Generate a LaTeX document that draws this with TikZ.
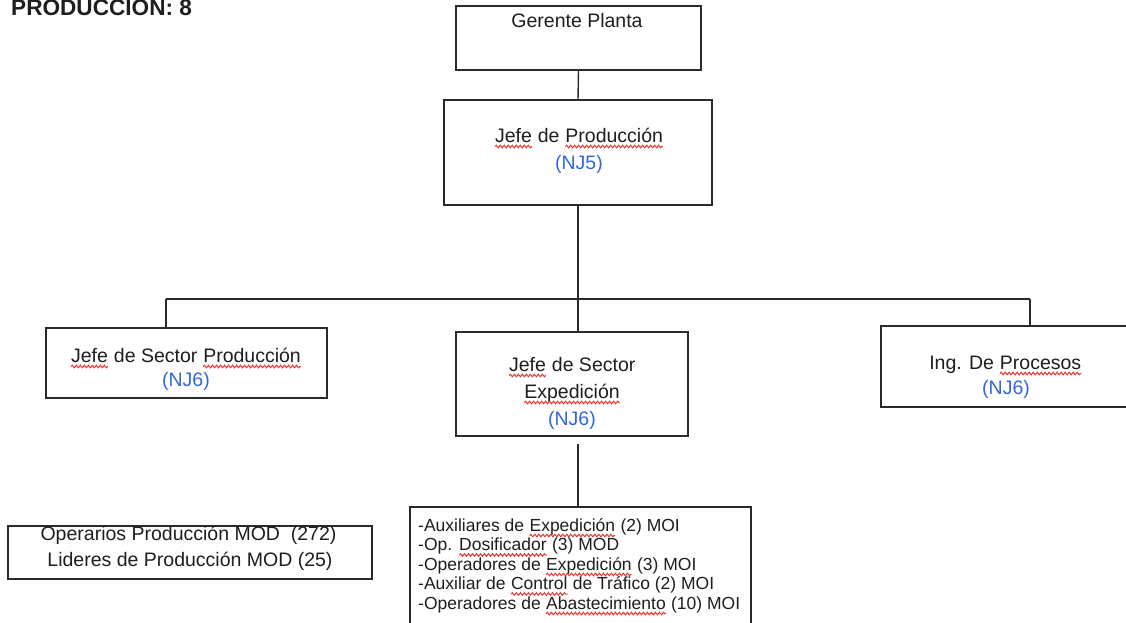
\documentclass[tikz,border=0pt]{standalone}
\usepackage{fontspec}
\setmainfont{Liberation Sans}
\usetikzlibrary{calc,decorations.pathmorphing}

\definecolor{ink}{HTML}{1E1E1E}
\definecolor{edge}{HTML}{2A2A2A}
\definecolor{njblue}{HTML}{3366DD}
\definecolor{wavered}{HTML}{EE3333}

\tikzset{
  box/.style={draw=edge, line width=1.6pt, rectangle, inner sep=0pt},
  link/.style={draw=edge, line width=1.4pt},
  txt/.style={inner sep=0pt, anchor=base, text=ink, font=\fontsize{19.5}{23}\selectfont},
  nj/.style={txt, text=njblue},
  item/.style={inner sep=0pt, anchor=base west, text=ink, font=\fontsize{17.5}{19.5}\selectfont},
  wavy/.style={draw=wavered, line width=1pt, decorate,
    decoration={snake, amplitude=1.3pt, segment length=4pt}},
}

% word with a red wavy spell-check underline
\newcommand\spell[1]{\tikz[baseline=(sw.base), x=1pt, y=1pt]{%
  \node[inner sep=0pt, outer sep=0pt, anchor=base west] (sw) at (0,0) {#1};
  \draw[wavy] ([yshift=-4.5pt]sw.base west) -- ([yshift=-4.5pt]sw.base east);}}

\begin{document}
\begin{tikzpicture}[x=1pt, y=-1pt]
\clip (0,0) rectangle (1126,622);
\fill[white] (0,0) rectangle (1126,622);

% heading
\node[inner sep=0pt, anchor=base west, text=ink, font=\bfseries\fontsize{22.6}{26}\selectfont]
  (titulo) at (11,15) {PRODUCCION: 8};

% boxes
\node[box, minimum width=245pt, minimum height=64pt]  (gerente)   at (578.5,38)   {};
\node[box, minimum width=268pt, minimum height=105pt] (jefe)      at (578,152.5)  {};
\node[box, minimum width=281pt, minimum height=70pt]  (secprod)   at (186.5,363)  {};
\node[box, minimum width=232pt, minimum height=104pt] (secexp)    at (572,384)    {};
\node[box, minimum width=299pt, minimum height=81pt]  (ingproc)   at (1030.5,366.5) {};
\node[box, minimum width=341pt, minimum height=133pt] (detalle)   at (580.5,573.5) {};
\node[box, minimum width=364pt, minimum height=53pt]  (operarios) at (190,552.5)  {};

% box texts
\node[txt] (tGerente) at (577,27)  {Gerente Planta};
\node[txt] (tJefe)    at (579,142) {\spell{Jefe} de \spell{Producción}};
\node[nj]  (nJefe)    at (579,169) {(NJ5)};

\node[txt] (tSecProd) at (186,362) {\spell{Jefe} de Sector \spell{Producción}};
\node[nj]  (nSecProd) at (186,386) {(NJ6)};

\node[txt] (tSecExpA) at (572,371) {\spell{Jefe} de Sector};
\node[txt] (tSecExpB) at (572,398) {\spell{Expedición}};
\node[nj]  (nSecExp)  at (572,425) {(NJ6)};

\node[txt] (tIng)     at (1005.5,369) {Ing. De \spell{Procesos}};
\node[nj]  (nIng)     at (1006,394)   {(NJ6)};

\node[txt] (tOpA) at (188.5,540) {Operarios Producción MOD\ \ (272)};
\node[txt] (tOpB) at (190,566)   {Lideres de Producción MOD (25)};

\node[item] (l1) at (418,531)   {-Auxiliares de \spell{Expedición} (2) MOI};
\node[item] (l2) at (418,550.5) {-Op. \spell{Dosificador} (3) MOD};
\node[item] (l3) at (418,570)   {-Operadores de \spell{Expedición} (3) MOI};
\node[item] (l4) at (418,589.5) {-Auxiliar de \spell{Control} de Tráfico (2) MOI};
\node[item] (l5) at (418,609)   {-Operadores de \spell{Abastecimiento} (10) MOI};

% connectors
\coordinate (barL) at (166,299);
\coordinate (barM) at (578,299);
\coordinate (barR) at (1030,299);

\draw[link] (gerente.south) -- (jefe.north);
\draw[link] (jefe.south) -- (barM);
\draw[link] (barL) -- (barR);
\draw[link] (barL) -- (barL |- secprod.north);
\draw[link] (barR) -- (barR |- ingproc.north);
\draw[link] (barM) -- (barM |- secexp.north);
\draw[link, shorten <=7pt] (barM |- secexp.south) -- (barM |- detalle.north);
\end{tikzpicture}
\end{document}
